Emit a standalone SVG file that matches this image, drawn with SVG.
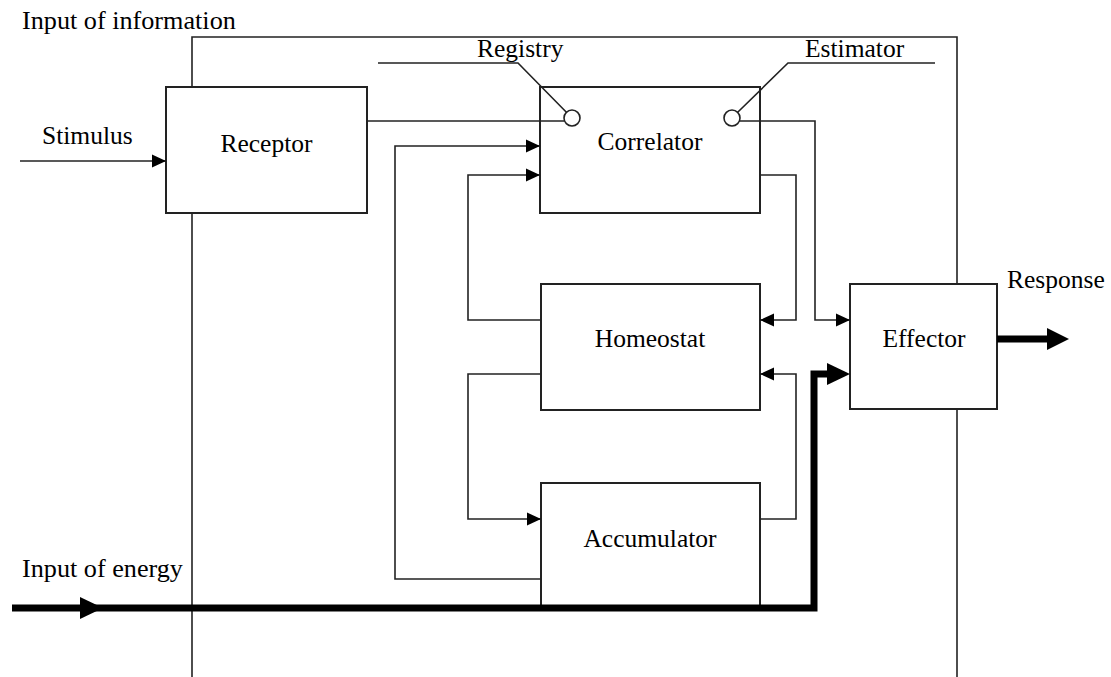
<svg xmlns="http://www.w3.org/2000/svg" width="1111" height="677" viewBox="0 0 1111 677">
<style>
.box{fill:#fff;stroke:#222;stroke-width:2}
.ln{fill:none;stroke:#222;stroke-width:1.6}
.thk{fill:none;stroke:#000;stroke-width:7;stroke-linejoin:miter}
.head{fill:#000}
text{font-family:"Liberation Serif","Times New Roman",serif;font-size:25.5px;fill:#000}
.big{font-size:26.2px}
.c{text-anchor:middle}
</style>
<defs>
<marker id="ar" markerUnits="userSpaceOnUse" markerWidth="15" markerHeight="14" viewBox="0 0 15 14" refX="14" refY="7" orient="auto">
<path d="M0,0.5 L14,7 L0,13.5 Z" fill="#000"/>
</marker>
</defs>
<rect width="1111" height="677" fill="#fff"/>
<g id="frame">
<path class="ln" d="M192,677 V37 H957 V677"/>
</g>
<g id="labels">
<text class="big" x="22" y="29">Input of information</text>
<text class="big" x="22" y="577">Input of energy</text>
<text x="42" y="144">Stimulus</text>
<text x="1007" y="288">Response</text>
<text x="477" y="57">Registry</text>
<text x="805" y="57">Estimator</text>
</g>
<g id="receptor">
<rect class="box" x="166" y="87" width="201" height="126"/>
<text class="c" x="266.5" y="152">Receptor</text>
</g>
<g id="correlator">
<rect class="box" x="540" y="87" width="220" height="126"/>
<text class="c" x="650" y="150">Correlator</text>
</g>
<g id="homeostat">
<rect class="box" x="541" y="284" width="219" height="126"/>
<text class="c" x="650" y="347">Homeostat</text>
</g>
<g id="accumulator">
<rect class="box" x="541" y="483" width="219" height="125"/>
<text class="c" x="650" y="547">Accumulator</text>
</g>
<g id="effector">
<rect class="box" x="850" y="284" width="147" height="125"/>
<text class="c" x="924" y="347">Effector</text>
</g>
<g id="connectors">
<path class="ln" d="M20,161 H166" marker-end="url(#ar)"/>
<path class="ln" d="M367,121 H564.6"/>
<path class="ln" d="M378,63 H518 L566.4,112.3"/>
<path class="ln" d="M935,63 H788 L737.7,112.3"/>
<circle cx="572" cy="118" r="8" fill="#fff" stroke="#222" stroke-width="1.6"/>
<circle cx="732" cy="118" r="8" fill="#fff" stroke="#222" stroke-width="1.6"/>
<path class="ln" d="M739.4,121 H815 V320 H850" marker-end="url(#ar)"/>
<path class="ln" d="M760,175 H796 V320 H760" marker-end="url(#ar)"/>
<path class="ln" d="M760,519 H796 V374 H760" marker-end="url(#ar)"/>
<path class="ln" d="M541,320 H468 V175 H540" marker-end="url(#ar)"/>
<path class="ln" d="M541,374 H468 V519 H541" marker-end="url(#ar)"/>
<path class="ln" d="M541,579 H395 V146 H540" marker-end="url(#ar)"/>
<path class="thk" d="M12,608 H814 V374 H830"/>
<polygon class="head" points="80,597 103,608 80,619"/>
<polygon class="head" points="827,363 850,374 827,385"/>
<path class="thk" d="M997,339 H1049"/>
<polygon class="head" points="1047,328 1069,339 1047,350"/>
</g>
</svg>
